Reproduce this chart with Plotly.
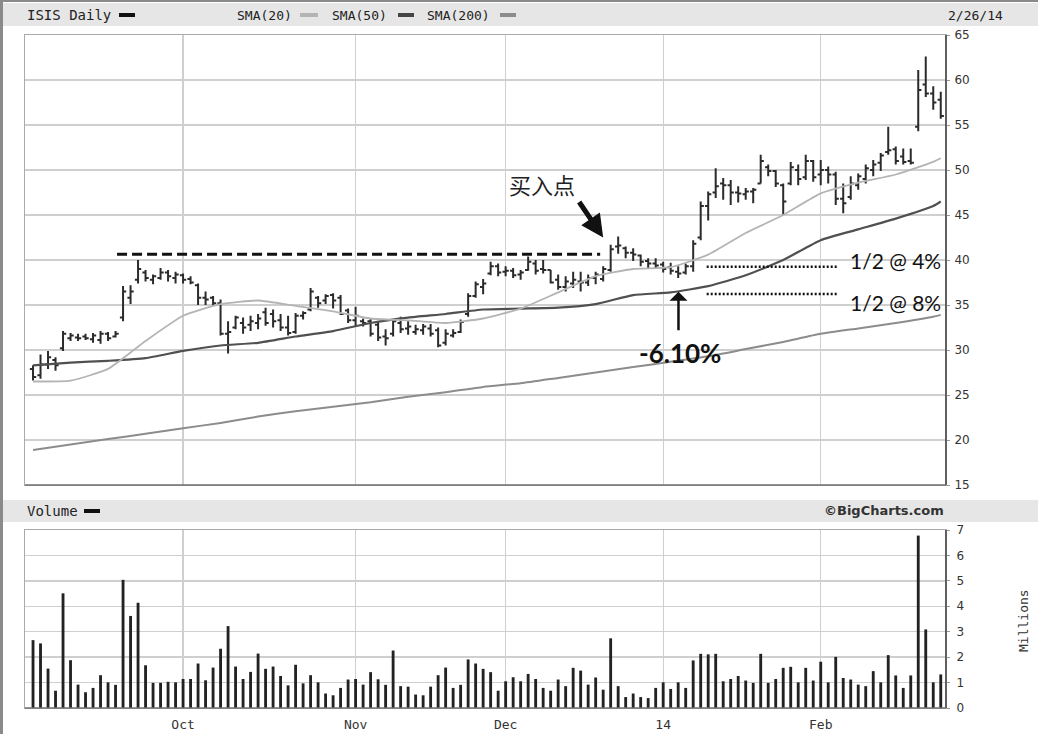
import plotly.graph_objects as go
import pandas as pd

# ---------------- data ----------------
holidays = ["2013-11-28", "2013-12-25", "2014-01-01", "2014-01-20", "2014-02-17"]
dates = [d.strftime("%Y-%m-%d") for d in
         pd.bdate_range("2013-09-03", "2014-02-26", freq="C", holidays=holidays)]

opens = [27.9, 27.2, 28.4, 28.9, 30.2, 31.3, 31.4, 31.5, 31.2, 31.1,
         31.8, 31.5, 33.6, 35.8, 37.8, 38.6, 37.8, 38.0, 38.6, 38.0,
         38.3, 37.9, 37.2, 35.8, 35.8, 35.2, 31.8, 32.5, 33.0, 32.8,
         33.0, 34.2, 34.0, 33.3, 32.5, 32.0, 33.8, 34.5, 35.8, 35.5,
         36.1, 35.8, 34.4, 33.3, 33.2, 33.2, 32.8, 31.5, 31.8, 33.0,
         32.4, 32.0, 32.2, 32.4, 32.2, 30.8, 31.6, 32.0, 34.0, 36.0,
         37.0, 38.5, 39.3, 38.7, 38.8, 38.4, 38.9, 39.6, 39.0, 38.9,
         37.8, 37.0, 37.4, 37.6, 37.5, 38.0, 37.9, 38.9, 41.5, 41.3,
         40.8, 40.5, 39.9, 39.6, 39.5, 39.2, 38.7, 38.6, 39.3, 42.5,
         46.0, 47.5, 48.5, 48.3, 47.5, 47.3, 47.6, 48.5, 50.3, 49.9,
         48.3, 48.5, 50.0, 49.2, 51.0, 49.5, 50.0, 49.5, 46.8, 47.0,
         48.3, 49.0, 50.0, 50.8, 52.0, 52.3, 51.5, 51.0, 54.8, 59.5,
         58.5, 57.8]
highs = [28.3, 29.5, 29.9, 29.2, 32.1, 31.9, 31.8, 31.8, 31.9, 32.1,
         32.0, 32.1, 37.1, 37.2, 40.0, 38.9, 38.4, 39.1, 38.9, 38.7,
         38.5, 38.2, 37.4, 36.5, 36.0, 35.6, 33.2, 33.8, 33.6, 33.8,
         34.0, 34.7, 34.5, 34.0, 33.8, 34.1, 34.3, 36.9, 36.0, 36.2,
         36.3, 36.1, 34.6, 34.8, 33.5, 33.5, 33.2, 32.3, 33.4, 33.7,
         33.2, 32.8, 32.9, 32.9, 32.5, 32.3, 32.3, 33.4, 36.3, 37.6,
         37.9, 39.8, 39.6, 39.3, 39.1, 38.9, 40.4, 40.0, 40.0, 38.9,
         38.4, 38.2, 38.7, 38.7, 38.4, 38.7, 39.3, 41.7, 42.6, 41.5,
         41.3, 40.6, 40.2, 40.2, 39.8, 39.7, 39.3, 39.6, 42.2, 46.5,
         47.6, 50.2, 49.1, 48.9, 48.2, 48.0, 48.0, 51.7, 50.6, 50.0,
         48.5, 50.9, 50.6, 51.7, 51.1, 51.1, 50.4, 49.8, 48.5, 49.3,
         49.6, 50.6, 51.1, 51.9, 54.8, 52.6, 52.4, 52.4, 61.1, 62.6,
         59.3, 58.7]
lows = [26.6, 26.8, 27.9, 27.7, 29.9, 31.0, 31.0, 31.1, 30.8, 30.7,
        31.0, 31.4, 33.2, 35.1, 37.4, 37.6, 37.3, 37.8, 37.6, 37.4,
        37.4, 37.3, 35.0, 35.0, 34.9, 31.6, 29.6, 32.3, 31.8, 32.1,
        32.3, 32.7, 32.5, 32.1, 31.6, 31.8, 33.4, 34.3, 34.7, 35.1,
        34.6, 33.9, 33.0, 32.6, 32.6, 31.5, 31.0, 30.5, 31.5, 31.9,
        31.7, 31.7, 31.7, 31.5, 30.3, 30.5, 31.4, 31.9, 33.7, 35.8,
        36.2, 38.3, 38.2, 38.2, 38.0, 37.8, 38.8, 38.4, 38.5, 37.4,
        36.7, 36.5, 36.9, 36.5, 37.1, 37.3, 37.6, 38.7, 40.7, 40.2,
        39.9, 39.3, 39.1, 39.0, 38.6, 38.4, 38.0, 38.4, 38.7, 42.2,
        44.4, 46.9, 46.7, 46.1, 46.4, 46.7, 46.3, 48.5, 49.3, 48.1,
        45.0, 48.3, 48.3, 48.9, 48.7, 48.3, 48.5, 46.1, 45.2, 46.7,
        47.8, 48.5, 49.3, 49.9, 51.7, 50.6, 50.6, 50.6, 54.3, 58.1,
        56.7, 55.7]
closes = [27.0, 28.4, 29.2, 28.3, 31.8, 31.6, 31.3, 31.3, 31.6, 31.8,
          31.3, 31.8, 36.5, 36.5, 39.0, 38.0, 38.2, 38.6, 38.2, 38.4,
          37.8, 37.5, 35.8, 35.6, 35.2, 31.8, 32.0, 33.6, 32.5, 33.2,
          33.5, 33.0, 33.2, 32.5, 31.9, 33.8, 34.1, 36.5, 35.2, 36.0,
          35.5, 34.0, 33.3, 33.8, 33.0, 31.8, 31.4, 31.3, 33.2, 32.3,
          32.6, 32.3, 32.6, 31.8, 30.5, 31.8, 31.9, 33.1, 36.0, 37.3,
          37.4, 39.3, 38.6, 38.8, 38.3, 38.6, 39.8, 38.8, 38.9, 37.5,
          37.0, 37.6, 37.8, 37.5, 38.0, 38.4, 39.0, 41.2, 41.6, 40.8,
          40.6, 39.8, 39.6, 39.4, 39.0, 38.8, 38.5, 39.3, 41.8, 46.0,
          47.3, 48.2, 48.3, 47.5, 47.4, 47.6, 47.8, 51.0, 49.9, 48.5,
          46.5, 50.3, 49.0, 51.0, 49.2, 50.0, 49.5, 46.8, 46.3, 48.5,
          49.3, 50.2, 50.6, 51.6, 52.2, 51.0, 50.9, 50.8, 58.9, 58.5,
          57.5, 56.0]
volumes = [2.67, 2.54, 1.55, 0.68, 4.51, 1.88, 0.92, 0.62, 0.79, 1.29,
           1.01, 0.91, 5.04, 3.62, 4.14, 1.68, 0.99, 0.99, 1.03, 1.01,
           1.14, 1.14, 1.75, 1.09, 1.59, 2.33, 3.22, 1.63, 1.14, 1.42,
           2.14, 1.54, 1.63, 1.26, 0.89, 1.70, 0.97, 1.29, 1.01, 0.57,
           0.50, 0.79, 1.12, 1.14, 0.92, 1.41, 1.13, 0.91, 2.26, 0.86,
           0.84, 0.53, 0.50, 0.84, 1.29, 1.59, 0.79, 0.91, 1.91, 1.75,
           1.54, 1.41, 0.68, 1.05, 1.21, 1.05, 1.34, 1.14, 0.79, 0.68,
           1.12, 0.86, 1.58, 1.47, 0.92, 1.20, 0.72, 2.74, 0.86, 0.43,
           0.57, 0.43, 0.39, 0.79, 1.01, 0.75, 1.01, 0.79, 1.87, 2.13,
           2.11, 2.13, 1.05, 1.14, 1.26, 1.08, 0.99, 2.13, 0.99, 1.14,
           1.58, 1.62, 1.01, 1.58, 1.08, 1.82, 1.01, 2.01, 1.18, 1.12,
           0.92, 0.86, 1.45, 1.01, 2.08, 1.28, 0.79, 1.28, 6.78, 3.09,
           1.01, 1.32]

# moving averages at every 5th session (plus the last)
sma_idx = [0, 5, 10, 15, 20, 25, 30, 35, 40, 45, 50, 55, 60, 65, 70, 75,
           80, 85, 90, 95, 100, 105, 110, 115, 120, 121]
sma20 = [26.5, 26.6, 27.9, 31.0, 33.8, 35.1, 35.5, 34.9, 34.3, 33.5, 33.3,
         33.0, 33.5, 34.6, 36.4, 38.2, 39.0, 39.2, 40.6, 43.0, 45.0, 47.4,
         48.6, 49.5, 50.9, 51.3]
sma50 = [28.3, 28.6, 28.8, 29.1, 29.9, 30.5, 30.8, 31.5, 32.1, 33.0, 33.6,
         34.0, 34.5, 34.6, 34.7, 35.1, 36.1, 36.4, 37.1, 38.3, 40.0, 42.2,
         43.4, 44.6, 46.0, 46.5]
sma200 = [18.9, 19.5, 20.1, 20.7, 21.3, 21.9, 22.6, 23.2, 23.7, 24.2, 24.8,
          25.3, 25.9, 26.3, 26.9, 27.5, 28.1, 28.7, 29.3, 30.1, 30.9, 31.8,
          32.4, 33.0, 33.7, 33.9]

month_labels = ["Oct", "Nov", "Dec", "14", "Feb"]
price_ticks = [15, 20, 25, 30, 35, 40, 45, 50, 55, 60, 65]
volume_ticks = [0, 1, 2, 3, 4, 5, 6, 7]

# annotation levels (price)
resistance_level = 40.65
stop4_level = 39.26
stop8_level = 36.22

assert len(dates) == len(opens) == len(highs) == len(lows) == len(closes) == len(volumes) == 122

month_starts = [d for k, d in enumerate(dates) if k > 0 and d[5:7] != dates[k - 1][5:7]]
sma_dates = [dates[i] for i in sma_idx]

# ---------------- figure ----------------
W, H = 1038, 734
L, R, T, B = 25, 92, 35, 26
PW, PH = W - L - R, H - T - B


def fx(p):
    return (p - L) / PW


def fy(p):
    return (H - B - p) / PH


fig = go.Figure()

fig.add_trace(go.Scatter(x=sma_dates, y=sma200, mode="lines",
                         line=dict(color="#8c8c8c", width=2, shape="spline", smoothing=0.5),
                         xaxis="x", yaxis="y", hoverinfo="skip"))
fig.add_trace(go.Scatter(x=sma_dates, y=sma50, mode="lines",
                         line=dict(color="#505050", width=2.2, shape="spline", smoothing=0.5),
                         xaxis="x", yaxis="y", hoverinfo="skip"))
fig.add_trace(go.Scatter(x=sma_dates, y=sma20, mode="lines",
                         line=dict(color="#b4b4b4", width=1.8, shape="spline", smoothing=0.5),
                         xaxis="x", yaxis="y", hoverinfo="skip"))
fig.add_trace(go.Ohlc(x=dates, open=opens, high=highs, low=lows, close=closes,
                      increasing=dict(line=dict(color="#2b2b2b", width=2)),
                      decreasing=dict(line=dict(color="#2b2b2b", width=2)),
                      tickwidth=0.42, xaxis="x", yaxis="y", hoverinfo="skip"))
fig.add_trace(go.Bar(x=dates, y=volumes, marker=dict(color="#222222", line=dict(width=0)),
                     width=0.38, xaxis="x2", yaxis="y2", hoverinfo="skip"))

grid = "#cfcfcf"
xcommon = dict(type="category", categoryorder="array", categoryarray=dates,
               range=[-1.07, 121.7], tickvals=month_starts,
               ticktext=month_labels, showgrid=True, gridcolor=grid, gridwidth=1.3,
               showline=True, linecolor="#aaaaaa", linewidth=1, mirror=True,
               ticks="", zeroline=False, fixedrange=True)

top_price = 1.0
bot_price = fy(485)
top_vol = fy(530)

fig.update_layout(
    width=W, height=H,
    margin=dict(l=L, r=R, t=T, b=B, autoexpand=False),
    paper_bgcolor="white", plot_bgcolor="white",
    showlegend=False, hovermode=False,
    xaxis=dict(xcommon, anchor="y", showticklabels=False,
               rangeslider=dict(visible=False)),
    xaxis2=dict(xcommon, anchor="y2", showticklabels=True, ticklabelstandoff=4,
                tickfont=dict(family="DejaVu Sans Mono", size=13, color="#333333")),
    yaxis=dict(domain=[bot_price, top_price], range=[15, 65], side="right",
               tickvals=price_ticks, showgrid=True, gridcolor=grid, gridwidth=1.3,
               showline=True, linecolor="#aaaaaa", mirror=True, zeroline=False,
               ticks="outside", ticklen=3, tickcolor="#999999", ticklabelstandoff=2,
               tickfont=dict(family="DejaVu Sans", size=12, color="#333333"),
               anchor="x", fixedrange=True),
    yaxis2=dict(domain=[0, top_vol], range=[0, 7], side="right",
                tickvals=volume_ticks, showgrid=True, gridcolor=grid, gridwidth=1.3,
                showline=True, linecolor="#aaaaaa", mirror=True, zeroline=False,
                ticks="outside", ticklen=3, tickcolor="#999999", ticklabelstandoff=4,
                tickfont=dict(family="DejaVu Sans", size=12, color="#333333"),
                anchor="x2", fixedrange=True),
)

shapes = []
# header strips
shapes.append(dict(type="rect", xref="paper", yref="paper", x0=fx(3), x1=fx(1038),
                   y0=fy(26), y1=fy(3), fillcolor="#e6e6e6", line=dict(width=0), layer="below"))
shapes.append(dict(type="rect", xref="paper", yref="paper", x0=fx(3), x1=fx(1038),
                   y0=fy(522), y1=fy(500), fillcolor="#e6e6e6", line=dict(width=0), layer="below"))
# outer frame (left & top)
shapes.append(dict(type="line", xref="paper", yref="paper", x0=fx(1.5), x1=fx(1.5),
                   y0=fy(734), y1=fy(0), line=dict(color="#8a8a8a", width=3)))
shapes.append(dict(type="line", xref="paper", yref="paper", x0=fx(0), x1=fx(1038),
                   y0=fy(1), y1=fy(1), line=dict(color="#8a8a8a", width=2)))
# dark right/bottom plot borders
for y0, y1 in [(bot_price, top_price), (0, top_vol)]:
    shapes.append(dict(type="line", xref="paper", yref="paper", x0=1, x1=1, y0=y0, y1=y1,
                       line=dict(color="#606060", width=2)))
    shapes.append(dict(type="line", xref="paper", yref="paper", x0=0, x1=1, y0=y0, y1=y0,
                       line=dict(color="#707070", width=1.5)))
# legend dashes in header
for x0, x1, yy, col in [(119, 135, 15, "#111111"), (300, 318, 15, "#b4b4b4"),
                        (398, 414, 15, "#444444"), (500, 516, 15, "#8c8c8c"),
                        (84, 100, 511, "#111111")]:
    shapes.append(dict(type="line", xref="paper", yref="paper", x0=fx(x0), x1=fx(x1),
                       y0=fy(yy), y1=fy(yy), line=dict(color=col, width=4)))
# resistance dashed line and stop lines
shapes.append(dict(type="line", xref="x", yref="y", x0=11.2, x1=75.6,
                   y0=resistance_level, y1=resistance_level,
                   line=dict(color="#111111", width=3, dash="10px,5px")))
for lvl in [stop4_level, stop8_level]:
    shapes.append(dict(type="line", xref="x", yref="y", x0=89.8, x1=107.2, y0=lvl, y1=lvl,
                       line=dict(color="#111111", width=2.5, dash="2px,2px")))
fig.update_layout(shapes=shapes)

hdr = dict(family="DejaVu Sans Mono", size=13, color="#222222")
ann = [
    dict(text="ISIS Daily", x=fx(25), y=fy(15), xanchor="left", yanchor="middle",
         font=dict(family="DejaVu Sans Mono", size=14, color="#222222")),
    dict(text="SMA(20)", x=fx(235), y=fy(15), xanchor="left", yanchor="middle", font=hdr),
    dict(text="SMA(50)", x=fx(330), y=fy(15), xanchor="left", yanchor="middle", font=hdr),
    dict(text="SMA(200)", x=fx(425), y=fy(15), xanchor="left", yanchor="middle", font=hdr),
    dict(text="2/26/14", x=fx(946), y=fy(15), xanchor="left", yanchor="middle", font=hdr),
    dict(text="Volume", x=fx(25), y=fy(511), xanchor="left", yanchor="middle",
         font=dict(family="DejaVu Sans Mono", size=14, color="#222222")),
    dict(text="<b>©BigCharts.com</b>", x=fx(946), y=fy(511), xanchor="right", yanchor="middle",
         font=dict(family="DejaVu Sans", size=13, color="#333333")),
    dict(text="Millions", x=fx(1023), y=fy(621), xanchor="center", yanchor="middle",
         textangle=-90, font=dict(family="DejaVu Sans Mono", size=13, color="#333333")),
]
for a in ann:
    a.update(xref="paper", yref="paper", showarrow=False)

data_ann = [
    dict(text="买入点", x=67.9, y=48.4, xref="x", yref="y", showarrow=False,
         font=dict(family="Noto Sans CJK SC", size=22, color="#222222")),
    dict(text="", x=76.0, y=42.5, xref="x", yref="y", showarrow=True, ax=-25, ay=-37,
         arrowhead=2, arrowsize=0.9, arrowwidth=5, arrowcolor="#111111"),
    dict(text="", x=86.04, y=36.48, xref="x", yref="y", showarrow=True, ax=0, ay=40,
         arrowhead=1, arrowsize=1.2, arrowwidth=2.5, arrowcolor="#111111"),
    dict(text="<b>-6.10%</b>", x=86.3, y=29.67, xref="x", yref="y", showarrow=False,
         font=dict(family="Lato", size=26, color="#111111")),
    dict(text="1/2 @ 4%", x=108.7, y=40.0, xref="x", yref="y", showarrow=False,
         xanchor="left", font=dict(family="Lato", size=21, color="#111111")),
    dict(text="1/2 @ 8%", x=108.7, y=35.33, xref="x", yref="y", showarrow=False,
         xanchor="left", font=dict(family="Lato", size=21, color="#111111")),
]
fig.update_layout(annotations=ann + data_ann)

fig.write_html("out.html",
               config={"displayModeBar": False, "staticPlot": True},
               post_script="document.body.style.margin='0px';document.body.style.padding='0px';")
